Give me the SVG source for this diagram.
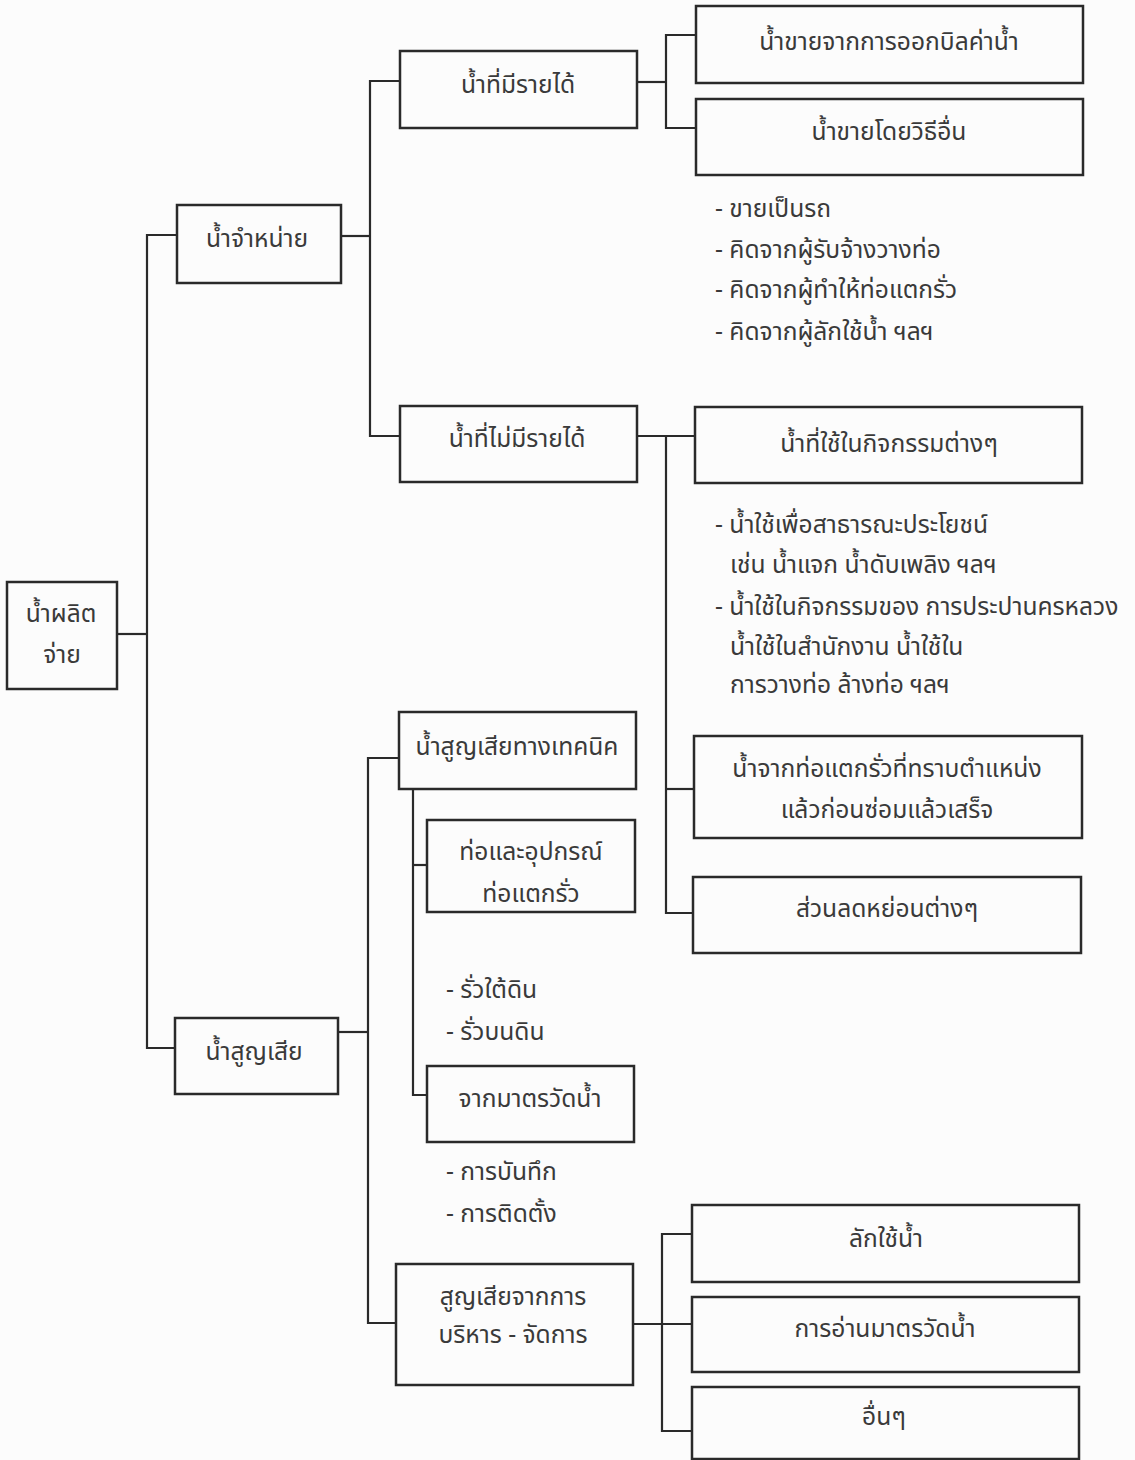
<svg xmlns="http://www.w3.org/2000/svg" width="1135" height="1460" viewBox="0 0 1135 1460">
<style>
.bg{fill:#fcfcfc}
.box{fill:none;stroke:#2a2a2a;stroke-width:2.5}
.ln{fill:none;stroke:#2a2a2a;stroke-width:2.2}
text{font-family:"Noto Sans Thai","Noto Sans","DejaVu Sans",sans-serif;font-size:24.6px;fill:#3a3a3a}
.c{text-anchor:middle}
</style>
<rect class="bg" x="0" y="0" width="1135" height="1460"/>
<g id="connectors">
<polyline class="ln" points="117,634 147,634"/>
<polyline class="ln" points="177,235 147,235 147,1048 175,1048"/>
<polyline class="ln" points="341,236 370,236"/>
<polyline class="ln" points="400,81 370,81 370,436 400,436"/>
<polyline class="ln" points="637,82 666,82"/>
<polyline class="ln" points="696,35 666,35 666,128 696,128"/>
<polyline class="ln" points="637,436 695,436"/>
<polyline class="ln" points="666,436 666,913 693,913"/>
<polyline class="ln" points="666,789 694,789"/>
<polyline class="ln" points="338,1032 368,1032"/>
<polyline class="ln" points="399,758 368,758 368,1323 396,1323"/>
<polyline class="ln" points="413,789 413,1095 427,1095"/>
<polyline class="ln" points="413,865 427,865"/>
<polyline class="ln" points="633,1324 692,1324"/>
<polyline class="ln" points="692,1234 662,1234 662,1431 692,1431"/>
</g>
<g id="n_produced"><rect class="box" x="7" y="582" width="110" height="107"/><text class="c" x="61" y="622">น้ำผลิต</text><text class="c" x="62" y="663">จ่าย</text></g>
<g id="n_sold"><rect class="box" x="177" y="205" width="164" height="78"/><text class="c" x="257" y="247">น้ำจำหน่าย</text></g>
<g id="n_revenue"><rect class="box" x="400" y="51" width="237" height="77"/><text class="c" x="518" y="93">น้ำที่มีรายได้</text></g>
<g id="n_bill"><rect class="box" x="696" y="6" width="387" height="77"/><text class="c" x="889" y="50">น้ำขายจากการออกบิลค่าน้ำ</text></g>
<g id="n_other_sale"><rect class="box" x="696" y="99" width="387" height="76"/><text class="c" x="889" y="140">น้ำขายโดยวิธีอื่น</text></g>
<g id="t_other_sale">
<text x="715" y="217">- ขายเป็นรถ</text>
<text x="715" y="258">- คิดจากผู้รับจ้างวางท่อ</text>
<text x="715" y="298">- คิดจากผู้ทำให้ท่อแตกรั่ว</text>
<text x="715" y="340">- คิดจากผู้ลักใช้น้ำ ฯลฯ</text>
</g>
<g id="n_nonrevenue"><rect class="box" x="400" y="406" width="237" height="76"/><text class="c" x="517" y="447">น้ำที่ไม่มีรายได้</text></g>
<g id="n_activities"><rect class="box" x="695" y="407" width="387" height="76"/><text class="c" x="889" y="452">น้ำที่ใช้ในกิจกรรมต่างๆ</text></g>
<g id="t_activities">
<text x="715" y="533">- น้ำใช้เพื่อสาธารณะประโยชน์</text>
<text x="730" y="573">เช่น น้ำแจก น้ำดับเพลิง ฯลฯ</text>
<text x="715" y="615">- น้ำใช้ในกิจกรรมของ การประปานครหลวง</text>
<text x="730" y="655">น้ำใช้ในสำนักงาน น้ำใช้ใน</text>
<text x="730" y="693">การวางท่อ ล้างท่อ ฯลฯ</text>
</g>
<g id="n_known_leak"><rect class="box" x="694" y="736" width="388" height="102"/><text class="c" x="887" y="777">น้ำจากท่อแตกรั่วที่ทราบตำแหน่ง</text><text class="c" x="887" y="818">แล้วก่อนซ่อมแล้วเสร็จ</text></g>
<g id="n_discount"><rect class="box" x="693" y="877" width="388" height="76"/><text class="c" x="887" y="917">ส่วนลดหย่อนต่างๆ</text></g>
<g id="n_loss"><rect class="box" x="175" y="1018" width="163" height="76"/><text class="c" x="254" y="1060">น้ำสูญเสีย</text></g>
<g id="n_tech_loss"><rect class="box" x="399" y="712" width="237" height="77"/><text class="c" x="517" y="755">น้ำสูญเสียทางเทคนิค</text></g>
<g id="n_pipe"><rect class="box" x="427" y="820" width="208" height="92"/><text class="c" x="531" y="860">ท่อและอุปกรณ์</text><text class="c" x="531" y="902">ท่อแตกรั่ว</text></g>
<g id="t_pipe">
<text x="446" y="998">- รั่วใต้ดิน</text>
<text x="446" y="1040">- รั่วบนดิน</text>
</g>
<g id="n_meter"><rect class="box" x="427" y="1066" width="207" height="76"/><text class="c" x="530" y="1107">จากมาตรวัดน้ำ</text></g>
<g id="t_meter">
<text x="446" y="1180">- การบันทึก</text>
<text x="446" y="1222">- การติดตั้ง</text>
</g>
<g id="n_mgmt"><rect class="box" x="396" y="1264" width="237" height="121"/><text class="c" x="513" y="1305">สูญเสียจากการ</text><text class="c" x="513" y="1343">บริหาร - จัดการ</text></g>
<g id="n_theft"><rect class="box" x="692" y="1205" width="387" height="77"/><text class="c" x="886" y="1247">ลักใช้น้ำ</text></g>
<g id="n_reading"><rect class="box" x="692" y="1297" width="387" height="75"/><text class="c" x="885" y="1337">การอ่านมาตรวัดน้ำ</text></g>
<g id="n_others"><rect class="box" x="692" y="1387" width="387" height="72"/><text class="c" x="884" y="1425">อื่นๆ</text></g>
</svg>
